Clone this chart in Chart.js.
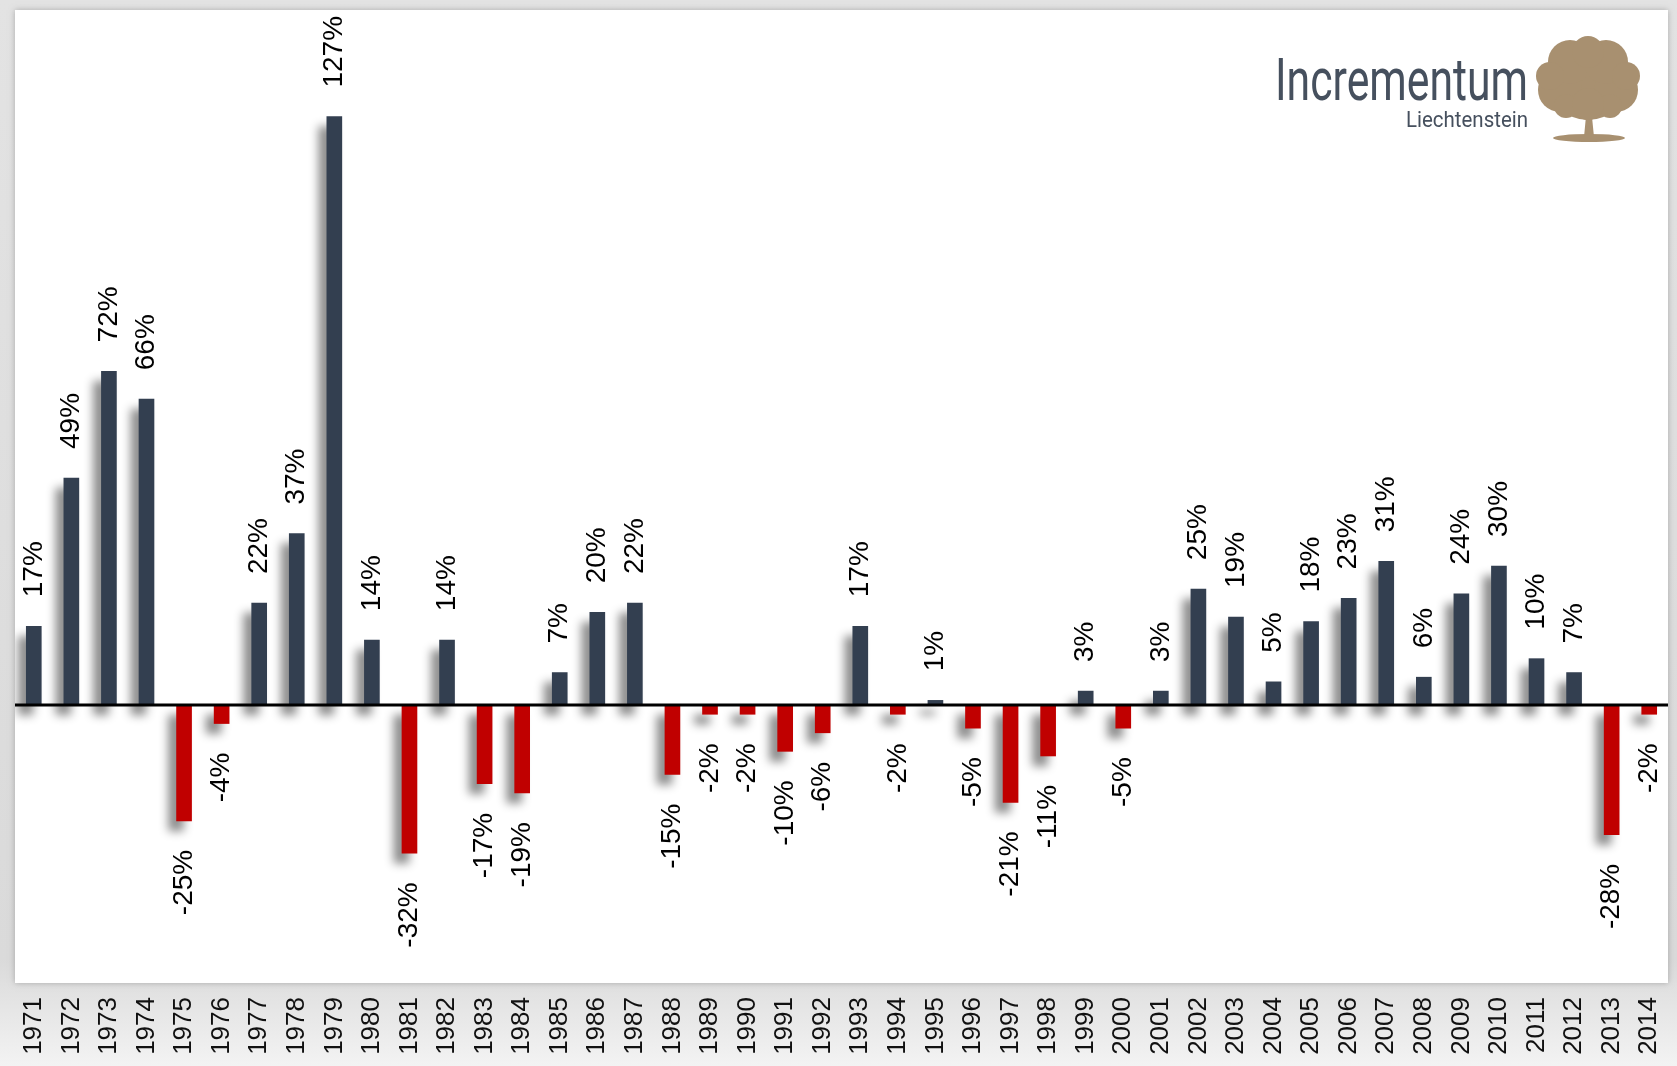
<!DOCTYPE html>
<html>
<head>
 <meta charset="utf-8">
 <title>Gold yearly returns</title>
 <script src="https://cdn.jsdelivr.net/npm/chart.js"></script>
 <style>
  body { margin: 0; background: #e4e4e4; }
  #wrap { width: 1677px; height: 1066px; }
 </style>
</head>
<body>
<div id="wrap"><canvas id="myChart" width="1677" height="1066"></canvas></div>
<script>
 // years and yearly change in %
 var years = ["1971","1972","1973","1974","1975","1976","1977","1978","1979","1980",
              "1981","1982","1983","1984","1985","1986","1987","1988","1989","1990",
              "1991","1992","1993","1994","1995","1996","1997","1998","1999","2000",
              "2001","2002","2003","2004","2005","2006","2007","2008","2009","2010",
              "2011","2012","2013","2014"];
 var returns = [17, 49, 72, 66, -25, -4, 22, 37, 127, 14,
                -32, 14, -17, -19, 7, 20, 22, -15, -2, -2,
                -10, -6, 17, -2, 1, -5, -21, -11, 3, -5,
                3, 25, 19, 5, 18, 23, 31, 6, 24, 30,
                10, 7, -28, -2];
 var posColor = "#333f50";
 var negColor = "#c00000";

 // grey page + white panel behind the plot
 var backdrop = {
  id: "backdrop",
  beforeDraw: function(chart) {
   var ctx = chart.ctx, a = chart.chartArea;
   ctx.save();
   var g = ctx.createLinearGradient(0, 0, 0, chart.height);
   g.addColorStop(0, "#e3e3e3");
   g.addColorStop(0.9, "#dadada");
   g.addColorStop(1, "#f3f3f3");
   ctx.fillStyle = g;
   ctx.fillRect(0, 0, chart.width, chart.height);
   ctx.shadowColor = "rgba(0,0,0,0.25)";
   ctx.shadowBlur = 6;
   ctx.fillStyle = "#ffffff";
   ctx.fillRect(a.left, a.top, a.right - a.left, a.bottom - a.top);
   ctx.restore();
  }
 };

 // soft drop shadow under the bars
 var barShadow = {
  id: "barShadow",
  beforeDatasetsDraw: function(chart) {
   var ctx = chart.ctx;
   ctx.save();
   ctx.shadowColor = "rgba(0,0,0,0.45)";
   ctx.shadowBlur = 10;
   ctx.shadowOffsetX = -8;
   ctx.shadowOffsetY = 10;
  },
  afterDatasetsDraw: function(chart) {
   chart.ctx.restore();
  }
 };

 // zero line, value labels and logo
 var extras = {
  id: "extras",
  afterDatasetsDraw: function(chart) {
   var ctx = chart.ctx, a = chart.chartArea;
   var y0 = chart.scales.y.getPixelForValue(0);
   ctx.save();
   ctx.strokeStyle = "#000";
   ctx.lineWidth = 3;
   ctx.beginPath();
   ctx.moveTo(a.left, y0);
   ctx.lineTo(a.right, y0);
   ctx.stroke();

   ctx.fillStyle = "#000";
   ctx.font = "28px 'Liberation Sans', Arial, sans-serif";
   ctx.textBaseline = "middle";
   var bars = chart.getDatasetMeta(0).data;
   for (var i = 0; i < bars.length; i++) {
    var b = bars[i], v = returns[i];
    ctx.save();
    ctx.translate(b.x, v >= 0 ? b.y - 29 : b.y + 29);
    ctx.rotate(-Math.PI / 2);
    ctx.textAlign = v >= 0 ? "left" : "right";
    ctx.fillText(v + "%", 0, 0);
    ctx.restore();
   }
   ctx.restore();
   drawLogo(ctx);
  }
 };

 function fitText(ctx, txt, right, base, width) {
  var w = ctx.measureText(txt).width;
  ctx.save();
  ctx.translate(right - width, base);
  ctx.scale(width / w, 1);
  ctx.fillText(txt, 0, 0);
  ctx.restore();
 }

 function drawLogo(ctx) {
  ctx.save();
  ctx.fillStyle = "#46505e";
  ctx.textAlign = "left";
  ctx.textBaseline = "alphabetic";
  ctx.font = "60px 'Liberation Sans Narrow', 'Roboto', sans-serif";
  fitText(ctx, "Incrementum", 1528, 100, 253);
  ctx.font = "22px 'Liberation Sans Narrow', 'Roboto', sans-serif";
  fitText(ctx, "Liechtenstein", 1528, 127, 122);

  // tree
  ctx.fillStyle = "#a89070";
  ctx.beginPath();
  ctx.ellipse(1589, 138, 36, 4, 0, 0, Math.PI * 2);
  ctx.fill();
  ctx.beginPath();
  ctx.moveTo(1584, 137);
  ctx.lineTo(1586, 116);
  ctx.lineTo(1578, 110);
  ctx.lineTo(1592, 112);
  ctx.lineTo(1600, 108);
  ctx.lineTo(1592, 117);
  ctx.lineTo(1594, 137);
  ctx.closePath();
  ctx.fill();
  var blobs = [[1588, 80, 40], [1560, 90, 22], [1616, 90, 22], [1570, 62, 22], [1606, 62, 22],
               [1588, 52, 16], [1550, 76, 14], [1626, 76, 14], [1566, 106, 12], [1610, 106, 12],
               [1588, 104, 16]];
  for (var k = 0; k < blobs.length; k++) {
   ctx.beginPath();
   ctx.arc(blobs[k][0], blobs[k][1], blobs[k][2], 0, Math.PI * 2);
   ctx.fill();
  }
  ctx.restore();
 }

 var ctx = document.getElementById("myChart");
 var myChart = new Chart(ctx, {
  type: "bar",
  data: {
   labels: years,
   datasets: [{
    data: returns,
    backgroundColor: returns.map(function(v) { return v < 0 ? negColor : posColor; }),
    barThickness: 15,
    borderWidth: 0
   }]
  },
  options: {
   responsive: false,
   animation: false,
   layout: { padding: { left: 15, right: 9, top: 10, bottom: 0 } },
   plugins: { legend: { display: false }, tooltip: { enabled: false } },
   scales: {
    x: {
     grid: { display: false, drawTicks: false },
     border: { display: false },
     afterFit: function(s) { s.height = 83; s.paddingLeft = 0; s.paddingRight = 0; },
     ticks: {
      autoSkip: false, maxRotation: 90, minRotation: 90, padding: 14,
      color: "#111",
      font: { family: "'Liberation Sans', Arial, sans-serif", size: 26 }
     }
    },
    y: { display: false, min: -60, max: 150 }
   }
  },
  plugins: [backdrop, barShadow, extras]
 });
</script>
</body>
</html>
